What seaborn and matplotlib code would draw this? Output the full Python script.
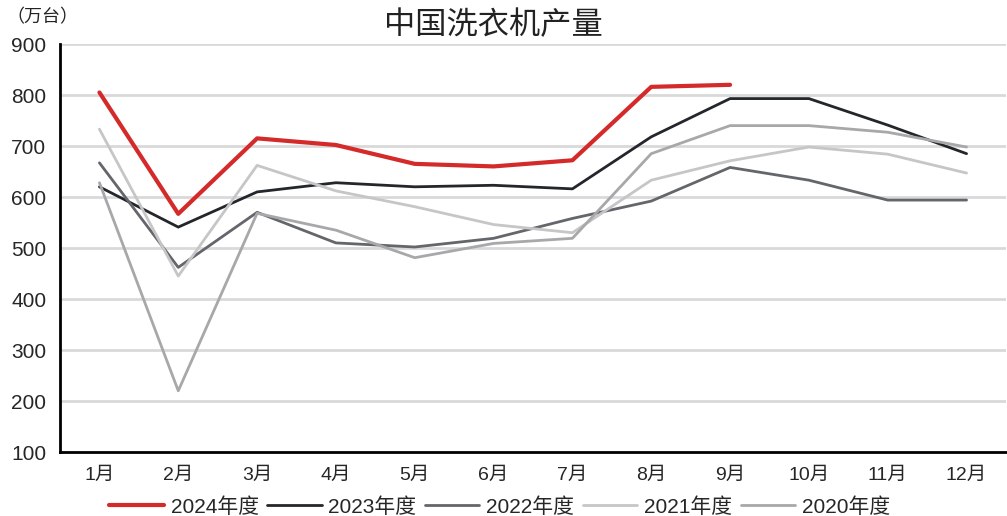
import numpy as np
import pandas as pd
import matplotlib
matplotlib.use("Agg")
import matplotlib.pyplot as plt
from matplotlib.ticker import FixedLocator
import seaborn as sns

months = ["1月", "2月", "3月", "4月", "5月", "6月", "7月", "8月", "9月", "10月", "11月", "12月"]
y2024 = [805, 567, 715, 702, 665, 660, 672, 816, 820, np.nan, np.nan, np.nan]
y2023 = [620, 541, 610, 628, 620, 623, 616, 718, 793, 793, 741, 685]
y2022 = [667, 462, 570, 510, 502, 519, 558, 592, 658, 633, 594, 594]
y2021 = [733, 445, 662, 612, 581, 546, 530, 633, 671, 698, 684, 647]
y2020 = [628, 220, 568, 535, 481, 509, 519, 685, 740, 740, 727, 698]
series_names = ["2024年度", "2023年度", "2022年度", "2021年度", "2020年度"]
yticks = [100, 200, 300, 400, 500, 600, 700, 800, 900]

sns.set_theme(style="white")
plt.rcParams["font.family"] = ["Liberation Sans", "Noto Sans CJK SC"]

rows = []
for name, vals in zip(series_names, [y2024, y2023, y2022, y2021, y2020]):
    for i, v in enumerate(vals):
        rows.append({"idx": i, "value": v, "series": name})
df = pd.DataFrame(rows).dropna()

palette = {
    "2024年度": "#d42a2a",
    "2023年度": "#23272b",
    "2022年度": "#63666b",
    "2021年度": "#c6c6c6",
    "2020年度": "#a7a8aa",
}
widths = {"2024年度": 3.0, "2023年度": 2.0, "2022年度": 2.0, "2021年度": 2.0, "2020年度": 2.0}

fig = plt.figure(figsize=(10.07, 5.16), dpi=100)
ax = fig.add_axes([0.0596, 0.124, 0.9394, 0.7907])

for y in yticks[1:]:
    ax.axhline(y, color="#d9d9d9", lw=2.0, zorder=0)

for name in series_names:
    sub = df[df["series"] == name]
    sns.lineplot(data=sub, x="idx", y="value", color=palette[name], lw=widths[name],
                 ax=ax, label=name, zorder=3 if name == "2024年度" else 2)

ax.set_xlim(-0.5, 11.5)
ax.set_ylim(100, 900)
ax.set_yticks(yticks)
ax.set_yticklabels([str(v) for v in yticks], fontsize=15)
ax.set_xticks(range(12))
ax.set_xticklabels(months, fontsize=14)
ax.xaxis.set_minor_locator(FixedLocator(np.arange(-0.5, 12, 1.0)))
ax.tick_params(axis="x", which="major", length=0, pad=11)
ax.tick_params(axis="x", which="minor", length=7, width=2, color="black", direction="out")
ax.tick_params(axis="y", which="major", length=7, width=2, color="black", direction="out", pad=3)
ax.set_xlabel("")
ax.set_ylabel("")

for side in ["top", "right"]:
    ax.spines[side].set_visible(False)
for side in ["left", "bottom"]:
    ax.spines[side].set_color("black")
    ax.spines[side].set_linewidth(2)

fig.text(0.49, 0.952, "中国洗衣机产量", fontsize=22.5, ha="center", va="center",
         color="#222222", family=["Noto Sans CJK SC"], fontweight="light")
fig.text(0.006, 0.966, "（万台）", fontsize=13, ha="left", va="center",
         family=["Noto Sans CJK SC"], color="#222222")

ax.legend(loc="upper center", bbox_to_anchor=(0.465, -0.09), ncol=5, frameon=False,
          fontsize=15, handlelength=2.6, handletextpad=0.33, columnspacing=0.42,
          borderaxespad=0)

fig.savefig("out.png", dpi=100)
